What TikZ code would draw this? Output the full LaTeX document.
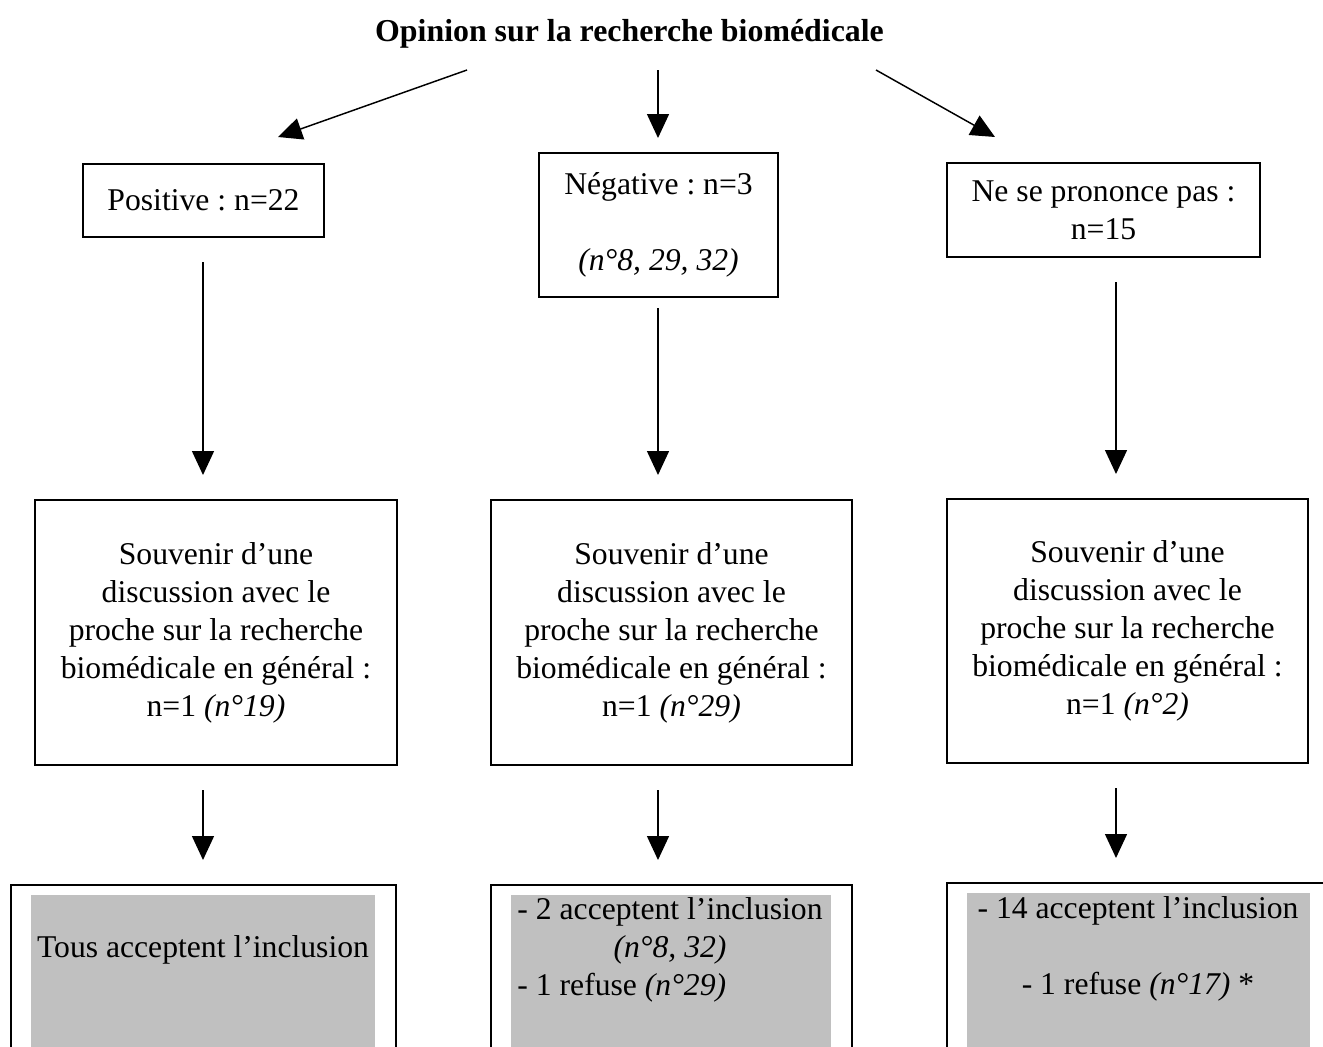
\documentclass[tikz,border=0pt]{standalone}
\usepackage{fontspec}
\setmainfont{Liberation Serif}
\usetikzlibrary{arrows.meta,calc}
\definecolor{boxgray}{RGB}{192,192,192}
\frenchspacing
\begin{document}
\begin{tikzpicture}[x=0.75pt,y=-0.75pt,
  every node/.style={font=\fontsize{23.75}{28.5}\selectfont\frenchspacing, inner sep=0pt, outer sep=0pt},
  frame/.style={draw, line width=1.2pt, rectangle},
  thickframe/.style={draw, line width=1.6pt, rectangle},
  graybox/.style={fill=boxgray, rectangle},
  conn/.style={line width=1.1pt, -{Triangle[width=16.5pt,length=18pt]}},
  gapin/.style={shorten <=#1*0.75pt},
  gapout/.style={shorten >=#1*0.75pt},
]
\useasboundingbox (0,0) rectangle (1323,1046);
\clip (0,0) rectangle (1323,1046);
\fill[white] (0,0) rectangle (1323,1046);

% title
\node[anchor=base, font=\fontsize{23.9}{28.5}\selectfont\bfseries] (title) at (629.5,41) {Opinion sur la recherche biomédicale};

% first row
\node[frame, minimum width=180.75pt, minimum height=54.75pt] (pos) at (203.5,200.5) {Positive : n=22};
\node[frame, minimum width=179.25pt, minimum height=108pt, align=center] (neg) at (658.5,225) {Négative : n=3\\[28.5pt]\textit{(n°8, 29, 32)}};
\node[frame, minimum width=234.75pt, minimum height=70.5pt, align=center] (nsp) at (1103.5,210) {Ne se prononce pas :\\n=15};

% second row
\node[frame, minimum width=271.5pt, minimum height=198.75pt, align=center] (s1) at (216,632.5) {Souvenir d’une\\discussion avec le\\proche sur la recherche\\biomédicale en général :\\n=1 \textit{(n°19)}};
\node[frame, minimum width=270.75pt, minimum height=198.75pt, align=center] (s2) at (671.5,632.5) {Souvenir d’une\\discussion avec le\\proche sur la recherche\\biomédicale en général :\\n=1 \textit{(n°29)}};
\node[frame, minimum width=270.75pt, minimum height=198pt, align=center] (s3) at (1127.5,631) {Souvenir d’une\\discussion avec le\\proche sur la recherche\\biomédicale en général :\\n=1 \textit{(n°2)}};

% third row
\node[thickframe, minimum width=288.75pt, minimum height=161.25pt] (b1) at (203.5,992.5) {};
\node[graybox, minimum width=258pt, minimum height=131.25pt] (g1) at (203,982.5) {};
\node (t1) at (203,950) {Tous acceptent l’inclusion};

\node[thickframe, minimum width=270.75pt, minimum height=161.25pt] (b2) at (671.5,992.5) {};
\node[graybox, minimum width=240pt, minimum height=131.25pt] (g2) at (671,982.5) {};
\node (t2) at (670,950) {\begin{tabular}{@{}l@{}}- 2 acceptent l’inclusion\\\multicolumn{1}{@{}c@{}}{\textit{(n°8, 32)}}\\- 1 refuse \textit{(n°29)}\end{tabular}};

\node[thickframe, minimum width=294.75pt, minimum height=162.75pt] (b3) at (1143.5,991.5) {};
\node[graybox, minimum width=257.25pt, minimum height=132.75pt] (g3) at (1138.5,981.5) {};
\node[align=center] (t3) at (1138,948.5) {- 14 acceptent l’inclusion\\[28.5pt]- 1 refuse \textit{(n°17)} *};

% column coordinates
\coordinate (c1) at (203,0);
\coordinate (c2) at (658,0);
\coordinate (c3) at (1116,0);

% connectors from title
\coordinate (d1a) at (467,70);
\coordinate (d1b) at (278,137);
\coordinate (d2a) at (658,70);
\coordinate (d3a) at (876,70);
\coordinate (d3b) at (995,137);
\draw[conn] (d1a) -- (d1b);
\draw[conn, gapout=15] (d2a) -- (neg.north -| c2);
\draw[conn] (d3a) -- (d3b);

% vertical connectors
\draw[conn, gapin=25, gapout=25] (pos.south -| c1) -- (s1.north -| c1);
\draw[conn, gapin=11, gapout=25] (neg.south -| c2) -- (s2.north -| c2);
\draw[conn, gapin=25, gapout=25] (nsp.south -| c3) -- (s3.north -| c3);

\draw[conn, gapin=25, gapout=25] (s1.south -| c1) -- (b1.north -| c1);
\draw[conn, gapin=25, gapout=25] (s2.south -| c2) -- (b2.north -| c2);
\draw[conn, gapin=25, gapout=25] (s3.south -| c3) -- (b3.north -| c3);
\end{tikzpicture}
\end{document}
